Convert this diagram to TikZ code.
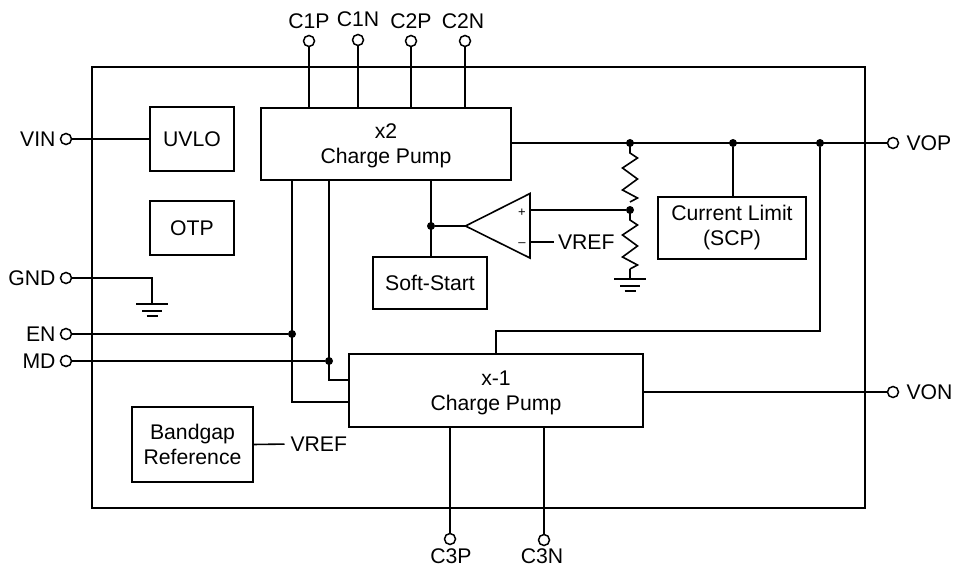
\documentclass[tikz,border=0pt]{standalone}
\usepackage{fontspec}
\setmainfont{Liberation Sans}
\usetikzlibrary{positioning}

\begin{document}
\begin{tikzpicture}[x=1pt,y=-1pt,line width=1.6pt,node distance=3pt,
  font=\fontsize{21.2}{25}\selectfont,
  main/.style={draw,align=center,inner sep=0pt,outer sep=0pt},
  pin/.style={circle,draw,line width=1.5pt,minimum size=11pt,inner sep=0pt,outer sep=0pt},
  txt/.style={inner sep=0pt,outer sep=0pt},
  dot/.style={circle,fill,minimum size=8pt,inner sep=0pt,outer sep=0pt},
  res/.pic={\draw (0,0) -- (0,10) -- (7.5,15) -- (-7.5,25) -- (7.5,36) -- (-7.5,47) -- (7.5,55) -- (0,59);},
  gnd/.pic={\draw (-16,0) -- (16,0) (-10,7) -- (10,7) (-5.5,12) -- (5.5,12);}]
    \useasboundingbox (0,0) rectangle (954,567);
    \node[main,minimum width=773pt,minimum height=441pt] (chip) at (478.5,287.5) {};
    % blocks
    \node[main,minimum width=84pt,minimum height=64pt] (uvlo) at (192,139) {UVLO};
    \node[main,minimum width=84pt,minimum height=54pt] (otp) at (192,228) {OTP};
    \node[main,minimum width=250pt,minimum height=72pt] (pump2) at (386,144) {\rule{0pt}{18pt}x2\\Charge Pump};
    \node[main,minimum width=114pt,minimum height=52pt] (soft) at (430,283) {Soft-Start};
    \node[main,minimum width=148pt,minimum height=62pt] (limit) at (732,228) {Current Limit\\(SCP)};
    \node[main,minimum width=294pt,minimum height=73pt] (pump1) at (496,390.5) {\rule{0pt}{20pt}x-1\\Charge Pump};
    \node[main,minimum width=121pt,minimum height=75pt] (bandgap) at (192.5,444.5) {Bandgap\\Reference};
    % pins
    \node[pin] (c1p) at (309,41) {};
    \node[pin] (c1n) at (358,40) {};
    \node[pin] (c2p) at (411,41) {};
    \node[pin] (c2n) at (465,41) {};
    \node[pin] (vin) at (66,139) {};
    \node[pin] (gnd) at (66,278) {};
    \node[pin] (en) at (66,334) {};
    \node[pin] (md) at (66,361) {};
    \node[pin] (vop) at (893,143) {};
    \node[pin] (von) at (893,392) {};
    \node[pin] (c3p) at (450,539) {};
    \node[pin] (c3n) at (544,540) {};
    % pin labels
    \node[txt] [above = 7pt of c1p] {C1P};
    \node[txt] [above = 8pt of c1n] {C1N};
    \node[txt] [above = 7pt of c2p] {C2P};
    \node[txt,xshift=-2pt] [above = 7pt of c2n] {C2N};
    \node[txt] [left = 5pt of vin] {VIN};
    \node[txt] [left = 5pt of gnd] {GND};
    \node[txt] [left = 5pt of en] {EN};
    \node[txt] [left = 5pt of md] {MD};
    \node[txt] [right = 8pt of vop] {VOP};
    \node[txt] [right = 8pt of von] {VON};
    \node[txt,xshift=1pt] [below = 4pt of c3p] {C3P};
    \node[txt,xshift=-2pt] [below = 3pt of c3n] {C3N};
    % junctions
    \node[dot] (jsoft) at (431,226) {};
    \node[dot] (jr1) at (630,143) {};
    \node[dot] (jr2) at (630,210) {};
    \node[dot] (jlim) at (733,143) {};
    \node[dot] (jneg) at (820,143) {};
    \node[dot] (jen) at (292,334) {};
    \node[dot] (jmd) at (329,361) {};
    % amplifier
    \coordinate (amptip) at (465.5,226);
    \coordinate (amptop) at (530,193.5);
    \coordinate (ampbot) at (530,258);
    \coordinate (amppos) at (530,210);
    \coordinate (ampneg) at (530,242);
    \draw (amptip) -- (amptop) -- (ampbot) -- cycle;
    \node[txt,font=\fontsize{13}{13}\selectfont] (plus) at (522,213) {+};
    \node[txt,font=\fontsize{13}{13}\selectfont] (minus) at (522,245) {--};
    \node[txt] (vrefa) [right = 28pt of ampneg] {VREF};
    \node[txt,anchor=west] (vrefb) at (290.5,444) {VREF};
    % grounds
    \coordinate (gnda) at (152,304);
    \coordinate (gndb) at (630,279);
    \pic at (gnda) {gnd};
    \pic at (gndb) {gnd};
    \pic at (jr1) {res};
    \pic at (jr2) {res};
    \draw (jr2) ++(0,59) -- (gndb);
    \path[draw] (vin) -- (uvlo.west |- vin)
    (gnd) -| (gnda)
    (c1p) -- (c1p |- pump2.north)
    (c1n) -- (c1n |- pump2.north)
    (c2p) -- (c2p |- pump2.north)
    (c2n) -- (c2n |- pump2.north)
    (pump2.east |- vop) -- (vop)
    (jsoft |- pump2.south) -- (jsoft |- soft.north)
    (jsoft) -- (amptip)
    (amppos) -- (jr2)
    (jlim) -- (jlim |- limit.north)
    (en) -- (jen)
    (md) -- (jmd)
    (jen |- pump2.south) |- (pump1.west |- 0,402)
    (jmd |- pump2.south) |- (pump1.west |- 0,380)
    (jneg) |- (pump1.north |- 0,331) -- (pump1.north)
    (pump1.east |- von) -- (von)
    (c3p) -- (c3p |- pump1.south)
    (c3n) -- (c3n |- pump1.south);
    \draw[shorten >=4pt] (ampneg) -- (vrefa.west);
    \draw[shorten >=6pt] (bandgap.east) -- (vrefb.west);
\end{tikzpicture}
\end{document}
